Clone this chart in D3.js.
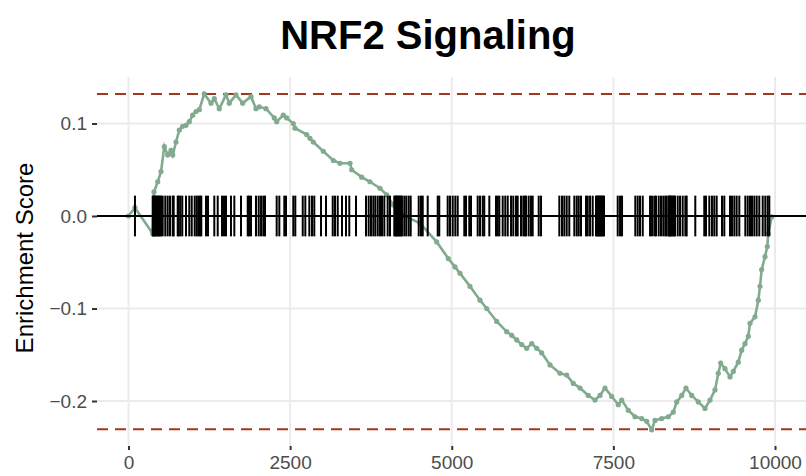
<!DOCTYPE html>
<html>
<head>
<meta charset="utf-8">
<script src="https://cdn.jsdelivr.net/npm/d3@7"></script>
<style>
  body { margin: 0; background: #fff; }
  svg { display: block; font-family: "Liberation Sans", Arial, sans-serif; }
</style>
</head>
<body>
<svg id="chart" width="806" height="476"></svg>
<script>
// gene set hit positions in the ranked list
const hits = [100, 374, 387, 399, 410, 425, 441, 456, 472, 488, 503, 529, 569, 606, 642, 684, 699,
  761, 776, 801, 832, 889, 940, 978, 1024, 1055, 1080, 1106, 1126, 1199, 1230, 1327, 1380, 1446,
  1477, 1508, 1585, 1637, 1740, 1844, 1864, 1895, 1972,
  2014, 2050, 2085, 2111, 2292, 2333, 2410, 2436, 2549, 2580, 2695, 2735, 2797, 2838, 2874, 2978,
  3055, 3159, 3194, 3236, 3302, 3364, 3415, 3519, 3674, 3715, 3751, 3787, 3818, 3855, 3890, 3921, 3957,
  4009, 4045, 4111, 4125, 4138, 4155, 4169, 4185, 4200, 4215, 4230, 4266, 4297, 4334, 4365, 4489, 4524,
  4551, 4628, 4783, 4807, 4937, 4973, 5015, 5055, 5092, 5194, 5220, 5271, 5298, 5401, 5437, 5479,
  5503, 5581, 5684, 5711, 5736, 5788, 5828, 5866, 5917, 5952, 5994,
  6020, 6071, 6107, 6133, 6149, 6190, 6226, 6252, 6345, 6381, 6664, 6705, 6741, 6778, 6818, 6896,
  6933, 6964, 6999, 7077, 7103, 7139, 7180, 7231, 7247, 7262, 7278, 7293, 7309, 7324, 7340, 7355,
  7567, 7603, 7634, 7839, 7876, 7912, 7954,
  8067, 8098, 8133, 8159, 8201, 8237, 8272, 8303, 8325, 8356, 8366, 8376, 8392, 8407, 8427, 8440,
  8453, 8495, 8531, 8572, 8613, 8634, 8767, 8906, 8933, 8984, 9025, 9061, 9098, 9180, 9216, 9304,
  9335, 9371, 9407, 9448, 9541, 9578, 9613, 9644, 9680, 9717, 9757, 9810, 9850, 9887, 9912];

// running enrichment score
const curveX = [0, 100, 374, 394, 452, 503, 554, 606, 657, 684, 735, 786, 838, 889, 940, 993, 1044,
  1095, 1172, 1276, 1327, 1404, 1508, 1559, 1663, 1766, 1895, 1972, 2023, 2127, 2255, 2292, 2394,
  2447, 2549, 2575, 2756, 2807, 2858, 3013, 3168, 3271, 3426, 3452, 3607, 3735, 3890, 3994, 4096,
  4251, 4509, 4767, 4947, 5050, 5128, 5282, 5437, 5541, 5695, 5850, 5927, 6005, 6082, 6159, 6237,
  6314, 6391, 6520, 6674, 6778, 6880, 6984, 7112, 7216, 7293, 7370, 7474, 7576, 7629, 7731, 7835,
  7938, 8015, 8093, 8144, 8247, 8350, 8427, 8480, 8557, 8623, 8712, 8814, 8917, 8995, 9072, 9123,
  9160, 9227, 9304, 9355, 9432, 9485, 9536, 9587, 9613, 9691, 9742, 9768, 9794, 9845, 9881, 9896, 9949];
const curveY = [0, 0.009, -0.019, 0.026, 0.037, 0.048, 0.075, 0.066, 0.071, 0.066, 0.080, 0.093, 0.097,
  0.098, 0.102, 0.109, 0.113, 0.115, 0.132, 0.122, 0.127, 0.116, 0.131, 0.122, 0.131, 0.122, 0.129,
  0.116, 0.118, 0.116, 0.106, 0.102, 0.109, 0.106, 0.100, 0.095, 0.088, 0.084, 0.080, 0.070, 0.060,
  0.057, 0.057, 0.050, 0.042, 0.037, 0.030, 0.023, 0.012, 0.001, -0.008, -0.028, -0.046, -0.055,
  -0.062, -0.076, -0.091, -0.100, -0.114, -0.125, -0.129, -0.134, -0.139, -0.143, -0.138, -0.143,
  -0.148, -0.161, -0.170, -0.172, -0.181, -0.186, -0.194, -0.199, -0.194, -0.186, -0.195, -0.204,
  -0.199, -0.210, -0.217, -0.219, -0.222, -0.231, -0.221, -0.219, -0.217, -0.212, -0.201, -0.194,
  -0.186, -0.194, -0.201, -0.208, -0.199, -0.188, -0.170, -0.159, -0.165, -0.174, -0.168, -0.158,
  -0.145, -0.138, -0.130, -0.116, -0.109, -0.091, -0.076, -0.058, -0.044, -0.033, -0.019, -0.001];

const maxES = 0.132;
const minES = -0.2306;
const xTicks = [0, 2500, 5000, 7500, 10000];
const yTicks = [-0.2, -0.1, 0.0, 0.1];
const title = "NRF2 Signaling";

const svg = d3.select('#chart');
const panel = {left: 97, right: 806, top: 77, bottom: 446};

let x = d3.scaleLinear().domain([0, 10000]).range([128.5, 775]);
let y = d3.scaleLinear().domain([0, 0.1]).range([216, 123.5]);

// grid
svg.append('g').selectAll('line').data(xTicks).join('line')
  .attr('x1', d => x(d)).attr('x2', d => x(d))
  .attr('y1', panel.top).attr('y2', panel.bottom)
  .attr('stroke', '#ebebeb').attr('stroke-width', 2);
svg.append('g').selectAll('line').data(yTicks).join('line')
  .attr('x1', panel.left).attr('x2', panel.right)
  .attr('y1', d => y(d)).attr('y2', d => y(d))
  .attr('stroke', '#ebebeb').attr('stroke-width', 2);

// dashed max / min lines
svg.append('g').selectAll('line').data([maxES, minES]).join('line')
  .attr('x1', panel.left).attr('x2', panel.right)
  .attr('y1', d => y(d)).attr('y2', d => y(d))
  .attr('stroke', '#a2361f').attr('stroke-width', 2)
  .attr('stroke-dasharray', '11,7');

// running score
const pts = curveX.map((d, i) => [d, curveY[i]]);
let line = d3.line().x(d => x(d[0])).y(d => y(d[1]));
svg.append('path').datum(pts)
  .attr('fill', 'none').attr('stroke', '#82aa8e')
  .attr('stroke-width', 2.6).attr('d', line);
svg.append('g').selectAll('circle').data(pts).join('circle')
  .attr('cx', d => x(d[0])).attr('cy', d => y(d[1]))
  .attr('r', 2.6).attr('fill', '#82aa8e');

// hits
svg.append('g').selectAll('line').data(hits).join('line')
  .attr('x1', d => x(d)).attr('x2', d => x(d))
  .attr('y1', y(0.022)).attr('y2', y(-0.022))
  .attr('stroke', '#000').attr('stroke-width', 2);

// zero line
svg.append('line')
  .attr('x1', panel.left).attr('x2', panel.right)
  .attr('y1', y(0)).attr('y2', y(0))
  .attr('stroke', '#000').attr('stroke-width', 2);

// axes
let xAxis = svg.append('g').attr('transform', `translate(0,${panel.bottom})`)
  .call(d3.axisBottom(x).tickValues(xTicks).tickFormat(d3.format('d')).tickSize(4).tickPadding(6));
let yAxis = svg.append('g').attr('transform', `translate(${panel.left},0)`)
  .call(d3.axisLeft(y).tickValues(yTicks).tickFormat(d => d === 0 ? '0.0' : d3.format('.1f')(d).replace('-', '\u2212')).tickSize(5).tickPadding(5));
[xAxis, yAxis].forEach(a => {
  a.select('.domain').remove();
  a.selectAll('.tick line').attr('stroke', '#333').attr('stroke-width', 2);
  a.selectAll('.tick text').attr('fill', '#4d4d4d').style('font-size', '19px')
    .style('font-family', '"Liberation Sans", Arial, sans-serif');
});

svg.append('text')
  .attr('transform', 'translate(33,258) rotate(-90)')
  .attr('text-anchor', 'middle')
  .style('font-size', '24px').attr('fill', '#000')
  .text('Enrichment Score');

svg.append('text')
  .attr('x', 428).attr('y', 49)
  .attr('text-anchor', 'middle')
  .style('font-size', '40px').style('font-weight', 'bold').attr('fill', '#000')
  .text(title);
</script>
</body>
</html>
